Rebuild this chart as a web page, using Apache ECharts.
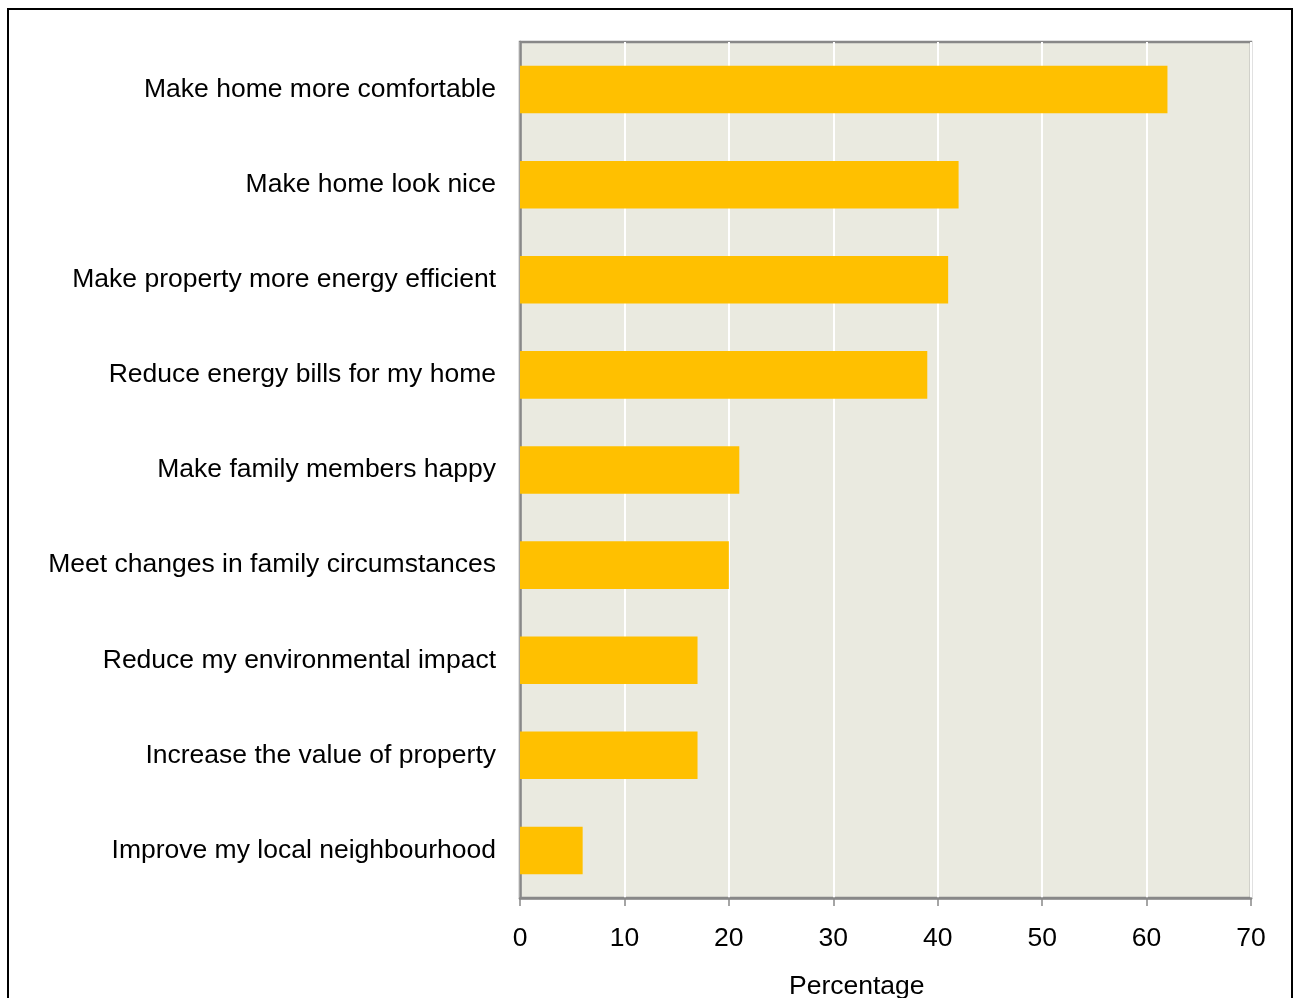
<!DOCTYPE html>
<html>
<head>
<meta charset="utf-8">
<script src="https://cdn.jsdelivr.net/npm/echarts@6/dist/echarts.min.js"></script>
<style>
  html, body { margin: 0; padding: 0; background: #ffffff; }
  #chart { width: 1296px; height: 998px; }
</style>
</head>
<body>
<div id="chart"></div>
<script>
// Reasons for home improvement, listed top to bottom
const categories = [
  'Make home more comfortable',
  'Make home look nice',
  'Make property more energy efficient',
  'Reduce energy bills for my home',
  'Make family members happy',
  'Meet changes in family circumstances',
  'Reduce my environmental impact',
  'Increase the value of property',
  'Improve my local neighbourhood'
];
// Share of respondents (%)
const percentages = [62, 42, 41, 39, 21, 20, 17, 17, 6];
const axisTitle = 'Percentage';

const FONT = '"Liberation Sans", Arial, sans-serif';
const SIZE = 26.5;

const chart = echarts.init(document.getElementById('chart'), null, { renderer: 'canvas' });

chart.setOption({
  animation: false,
  backgroundColor: '#ffffff',
  textStyle: { fontFamily: FONT },
  grid: {
    left: 520, right: 45, top: 42, bottom: 100,
    show: true,
    backgroundColor: '#EAEAE0',
    borderColor: '#888888',
    borderWidth: 2.5
  },
  xAxis: {
    type: 'value',
    min: 0, max: 70, interval: 10,
    axisLine: { show: true, lineStyle: { color: '#888888', width: 2.5 } },
    axisTick: { show: true, length: 8, lineStyle: { color: '#888888', width: 1.5 } },
    axisLabel: { color: '#000', fontSize: SIZE, fontFamily: FONT, margin: 27 },
    splitLine: { show: true, lineStyle: { color: '#ffffff', width: 2 } }
  },
  yAxis: {
    type: 'category',
    inverse: true,
    data: categories,
    axisLine: { show: true, lineStyle: { color: '#888888', width: 2.5 } },
    axisTick: { show: false },
    axisLabel: { color: '#000', fontSize: SIZE, fontFamily: FONT, margin: 24, padding: [3, 0, 0, 0] },
    splitLine: { show: false }
  },
  series: [{
    type: 'bar',
    data: percentages,
    barCategoryGap: '50%',
    itemStyle: { color: '#FFC000' }
  }],
  graphic: [
    {
      type: 'rect',
      silent: true,
      shape: { x: 8, y: 9, width: 1284, height: 1010 },
      style: { fill: 'none', stroke: '#000', lineWidth: 2 }
    },
    {
      type: 'text',
      left: 789, top: 973,
      style: { text: axisTitle, font: SIZE + 'px ' + FONT, fill: '#000' }
    }
  ]
});
</script>
</body>
</html>
